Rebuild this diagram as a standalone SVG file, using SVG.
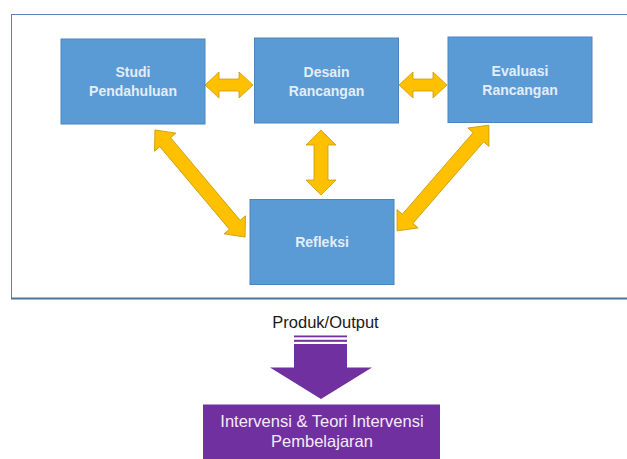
<svg xmlns="http://www.w3.org/2000/svg" width="627" height="459" viewBox="0 0 627 459">
<style>
.box{fill:#5b9bd5;stroke:#4a85bd;stroke-width:1}
.lbl{font-family:"Liberation Sans",Arial,sans-serif;font-size:14px;font-weight:bold;fill:#e3edf8;text-anchor:middle}
.arr{fill:#ffc000;stroke:#c99a06;stroke-width:0.8;stroke-linejoin:miter}
.purple{fill:#7030a0}
.plbl{font-family:"Liberation Sans",Arial,sans-serif;font-size:16.5px;fill:#f3ecf8;text-anchor:middle}
</style>
<rect width="627" height="459" fill="#ffffff"/>
<g id="frame">
<line x1="11" y1="14.5" x2="627" y2="14.5" stroke="#5a84ad" stroke-width="1"/>
<line x1="11.5" y1="14" x2="11.5" y2="299" stroke="#5a84ad" stroke-width="1"/>
<line x1="11" y1="298.5" x2="627" y2="298.5" stroke="#4f7497" stroke-width="2"/>
</g>
<g id="connectors">
<polygon class="arr" points="205,85 219,72 219,79 239,79 239,72 253,85 239,98 239,91 219,91 219,98"/>
<polygon class="arr" points="399,85 413,72 413,79 433,79 433,72 447,85 433,98 433,91 413,91 413,98"/>
<polygon class="arr" points="321,130 336,145 328,145 328,180 336,180 321,195 306,180 314,180 314,145 306,145"/>
<polygon class="arr" transform="translate(200,183.5) rotate(49.93)" points="-70,0 -54,-14 -54,-7 54,-7 54,-14 70,0 54,14 54,7 -54,7 -54,14"/>
<polygon class="arr" transform="translate(443,178) rotate(130.96)" points="-70,0 -54,-14 -54,-7 54,-7 54,-14 70,0 54,14 54,7 -54,7 -54,14"/>
</g>
<g id="studi">
<rect class="box" x="61" y="39" width="144" height="85"/>
<text class="lbl" x="133" y="77">Studi</text>
<text class="lbl" x="133" y="96">Pendahuluan</text>
</g>
<g id="desain">
<rect class="box" x="254.5" y="38" width="144" height="85"/>
<text class="lbl" x="326.5" y="77">Desain</text>
<text class="lbl" x="326.5" y="96">Rancangan</text>
</g>
<g id="evaluasi">
<rect class="box" x="448" y="37" width="144" height="85.5"/>
<text class="lbl" x="520" y="76">Evaluasi</text>
<text class="lbl" x="520" y="95">Rancangan</text>
</g>
<g id="refleksi">
<rect class="box" x="250" y="199.5" width="144" height="85"/>
<text class="lbl" x="322" y="247">Refleksi</text>
</g>
<g id="output">
<text x="325.5" y="328" font-family="'Liberation Sans',Arial,sans-serif" font-size="16.5" fill="#1a1a1a" text-anchor="middle">Produk/Output</text>
<rect class="purple" x="294" y="335.5" width="53" height="1.8"/>
<rect class="purple" x="294" y="339.8" width="53" height="2"/>
<polygon class="purple" points="294,344 347,344 347,367.5 372,367.5 321,399 270,367.5 294,367.5"/>
</g>
<g id="intervensi">
<rect class="purple" x="203" y="404.5" width="237" height="55"/>
<text class="plbl" x="322" y="427">Intervensi &amp; Teori Intervensi</text>
<text class="plbl" x="322" y="447">Pembelajaran</text>
</g>
</svg>
